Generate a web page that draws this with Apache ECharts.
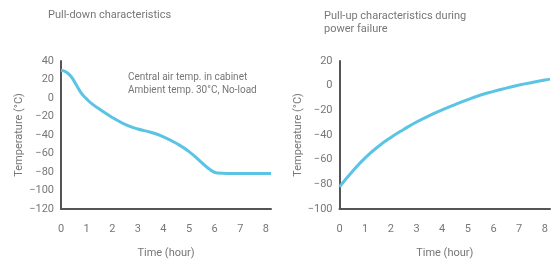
<!DOCTYPE html>
<html>
<head>
<meta charset="utf-8">
<script src="https://cdn.jsdelivr.net/npm/echarts@6/dist/echarts.min.js"></script>
<style>
  html, body { margin: 0; padding: 0; background: #fff; }
  #chart { width: 560px; height: 264px; }
</style>
</head>
<body>
<div id="chart"></div>
<script>
// pull-down curve: [hour, °C]
const pullDown = [
  [0, 30], [0.2, 28], [0.4, 23], [0.6, 14], [0.8, 5], [1.0, -1], [1.2, -6],
  [1.5, -12], [2.0, -21], [2.5, -28.5], [3.0, -33.5], [3.5, -37], [4.0, -42],
  [4.5, -49], [5.0, -58], [5.5, -70], [5.8, -77], [6.1, -81], [6.5, -81.5],
  [7.0, -81.5], [8.2, -81.5],
];
// pull-up curve after power failure
const pullUp = [
  [0, -82], [0.5, -69.5], [1, -58.5], [1.5, -49.5], [2, -42], [2.5, -35.5],
  [3, -29.5], [3.5, -24.3], [4, -19.7], [4.5, -15.4], [5, -11.3], [5.5, -7.6],
  [6, -4.6], [6.5, -2], [7, 0.5], [7.5, 2.6], [8, 4.6], [8.2, 5.3],
];
const hourTicks = [0, 1, 2, 3, 4, 5, 6, 7, 8];
const leftTitle = 'Pull-down characteristics';
const rightTitle = 'Pull-up characteristics during\npower failure';
const noteLines = ['Central air temp. in cabinet', 'Ambient temp. 30°C, No-load'];

const FONT = 'Roboto';
const GREY = '#777';
const LINE = '#5BC3E4';

function xAxisOf(gridIndex) {
  return {
    gridIndex,
    type: 'value',
    min: 0,
    max: 8.2,
    interval: 1,
    name: 'Time (hour)',
    nameLocation: 'middle',
    nameGap: 39,
    nameTextStyle: { color: GREY, fontFamily: FONT, fontSize: 11 },
    axisLine: { show: true, onZero: false, lineStyle: { color: '#555', width: 2 } },
    axisTick: { show: false },
    splitLine: { show: false },
    axisLabel: {
      color: GREY, fontFamily: FONT, fontSize: 11, margin: 15,
      formatter: (v) => (hourTicks.includes(v) ? String(v) : ''),
    },
  };
}

function yAxisOf(gridIndex, min, max, gap) {
  return {
    gridIndex,
    type: 'value',
    min,
    max,
    interval: 20,
    name: 'Temperature (°C)',
    nameLocation: 'middle',
    nameGap: gap,
    nameTextStyle: { color: GREY, fontFamily: FONT, fontSize: 11 },
    axisLine: { show: true, onZero: false, lineStyle: { color: '#555', width: 2 } },
    axisTick: { show: false },
    splitLine: { show: false },
    axisLabel: {
      color: GREY, fontFamily: FONT, fontSize: 11, margin: 7,
      formatter: (v) => String(v).replace('-', '−'),
    },
  };
}

const chart = echarts.init(document.getElementById('chart'));
chart.setOption({
  backgroundColor: '#fff',
  animation: false,
  title: [
    { text: leftTitle, left: 48, top: 10, padding: 0, textStyle: { color: GREY, fontFamily: FONT, fontSize: 11, fontWeight: 'normal' } },
    { text: rightTitle, left: 324, top: 10, padding: 0, textStyle: { color: GREY, fontFamily: FONT, fontSize: 11, fontWeight: 'normal', lineHeight: 13 } },
  ],
  grid: [
    { left: 61, top: 61, width: 210, height: 148 },
    { left: 339.5, top: 61, width: 210.5, height: 148 },
  ],
  xAxis: [xAxisOf(0), xAxisOf(1)],
  yAxis: [yAxisOf(0, -120, 40, 36), yAxisOf(1, -100, 20, 32)],
  graphic: [
    {
      type: 'text', left: 128, top: 71,
      style: { text: noteLines.join('\n'), fill: GREY, font: '10px ' + FONT, lineHeight: 13 },
    },
  ],
  series: [
    {
      type: 'line', xAxisIndex: 0, yAxisIndex: 0, data: pullDown,
      smooth: 0.5, symbol: 'none',
      lineStyle: { color: LINE, width: 3 },
    },
    {
      type: 'line', xAxisIndex: 1, yAxisIndex: 1, data: pullUp,
      smooth: 0.5, symbol: 'none',
      lineStyle: { color: LINE, width: 3 },
    },
  ],
});
</script>
</body>
</html>
